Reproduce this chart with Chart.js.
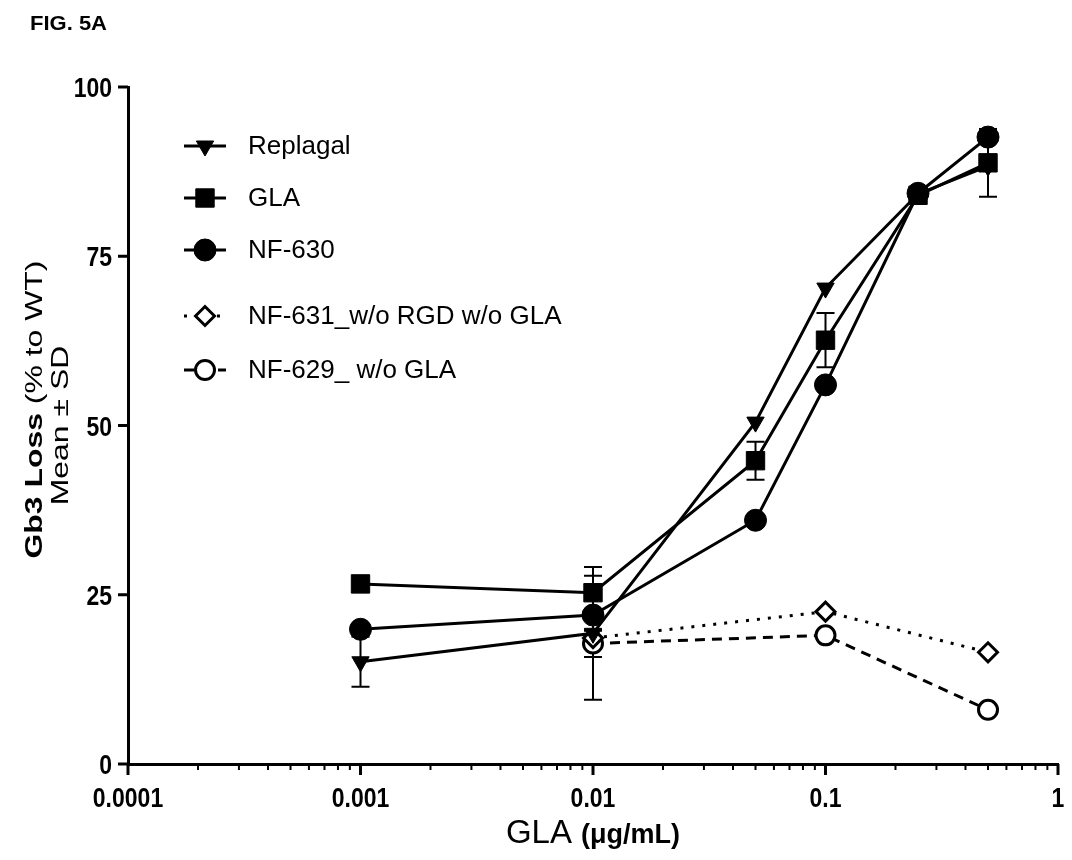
<!DOCTYPE html>
<html>
<head>
<meta charset="utf-8">
<script src="https://cdn.jsdelivr.net/npm/chart.js@4.4.1/dist/chart.umd.min.js"></script>
<style>
  html, body { margin: 0; padding: 0; background: #fff; }
  #wrap { position: relative; width: 1072px; height: 860px; }
</style>
</head>
<body>
<div id="wrap"><canvas id="fig5a" width="1072" height="860"></canvas></div>
<script>
// concentrations (ug/mL)
const doses = [0.001, 0.01, 0.05, 0.1, 0.25, 0.5];
const dosesCtrl = [0.01, 0.1, 0.5];

// Gb3 loss, mean and SD
const replagal = [15.1, 19.3, 50.5, 70.3, 84.2, 88.3];
const replagalSd = [3.7, 9.8, 0, 0, 0, 0];
const gla = [26.6, 25.3, 44.8, 62.6, 84.0, 88.8];
const glaSd = [0, 2.5, 2.8, 4.0, 0, 5.0];
const nf630 = [19.9, 22.0, 36.0, 56.0, 84.3, 92.6];
const nf630Sd = [0, 2.3, 0, 0, 0, 0];
const nf631 = [18.6, 22.5, 16.5];
const nf631Sd = [0, 0, 0];
const nf629 = [17.8, 19.0, 8.0];
const nf629Sd = [2.0, 0, 0];

const xTickValues = [0.0001, 0.001, 0.01, 0.1, 1];
const xTickLabels = ["0.0001", "0.001", "0.01", "0.1", "1"];
const yTickValues = [0, 25, 50, 75, 100];

const seriesNames = ["Replagal", "GLA", "NF-630", "NF-631_w/o RGD w/o GLA", "NF-629_ w/o GLA"];

function pts(xs, ys) {
    return xs.map((x, i) => ({ x: x, y: ys[i] }));
}

// text that is taller than wide, like the scanned figure
function stretchedText(ctx, txt, x, y, align, sy) {
    ctx.save();
    ctx.translate(x, y);
    ctx.scale(1, sy);
    ctx.textAlign = align;
    ctx.fillText(txt, 0, 0);
    ctx.restore();
}

// error bars
const errorBars = {
    id: "errorBars",
    beforeDatasetsDraw(chart) {
        const ctx = chart.ctx;
        const xs = chart.scales.x, ys = chart.scales.y;
        ctx.save();
        ctx.strokeStyle = "#000";
        ctx.lineWidth = 2;
        chart.data.datasets.forEach(ds => {
            ds.data.forEach((p, i) => {
                const sd = ds.sd[i];
                if (!sd) return;
                const px = xs.getPixelForValue(p.x);
                const top = ys.getPixelForValue(p.y + sd);
                const bot = ys.getPixelForValue(p.y - sd);
                ctx.beginPath();
                ctx.moveTo(px, top); ctx.lineTo(px, bot);
                ctx.moveTo(px - 9, top); ctx.lineTo(px + 9, top);
                ctx.moveTo(px - 9, bot); ctx.lineTo(px + 9, bot);
                ctx.stroke();
            });
        });
        ctx.restore();
    }
};

// tick marks, tick labels, titles, legend
const decorations = {
    id: "decorations",
    afterDraw(chart) {
        const ctx = chart.ctx;
        const xs = chart.scales.x, ys = chart.scales.y;
        const area = chart.chartArea;
        ctx.save();
        ctx.strokeStyle = "#000";
        ctx.fillStyle = "#000";

        // x minor + major ticks
        ctx.lineWidth = 2;
        for (let e = -4; e < 0; e++) {
            for (let d = 2; d <= 9; d++) {
                const px = xs.getPixelForValue(d * Math.pow(10, e));
                ctx.beginPath();
                ctx.moveTo(px, area.bottom); ctx.lineTo(px, area.bottom + 6);
                ctx.stroke();
            }
        }
        ctx.lineWidth = 3;
        ctx.font = "bold 23px 'Liberation Sans', Arial";
        ctx.textBaseline = "alphabetic";
        xTickValues.forEach((v, i) => {
            const px = xs.getPixelForValue(v);
            ctx.beginPath();
            ctx.moveTo(px, area.bottom); ctx.lineTo(px, area.bottom + 11);
            ctx.stroke();
            stretchedText(ctx, xTickLabels[i], px, area.bottom + 43, "center", 1.2);
        });
        yTickValues.forEach(v => {
            const py = ys.getPixelForValue(v);
            ctx.beginPath();
            ctx.moveTo(area.left - 10, py); ctx.lineTo(area.left, py);
            ctx.stroke();
            stretchedText(ctx, String(v), area.left - 16, py + 10, "right", 1.2);
        });

        // figure label
        ctx.save();
        ctx.translate(30, 30);
        ctx.scale(1.1, 1);
        ctx.font = "bold 20px 'Liberation Sans', Arial";
        ctx.fillText("FIG. 5A", 0, 0);
        ctx.restore();

        // x title
        const cx = (area.left + area.right) / 2;
        ctx.font = "33px 'Liberation Sans', Arial";
        const w1 = ctx.measureText("GLA ").width;
        ctx.font = "bold 27px 'Liberation Sans', Arial";
        const w2 = ctx.measureText("(\u03bcg/mL)").width;
        const sx = cx - (w1 + w2) / 2;
        ctx.font = "33px 'Liberation Sans', Arial";
        ctx.fillText("GLA ", sx, 843);
        ctx.font = "bold 27px 'Liberation Sans', Arial";
        ctx.fillText("(\u03bcg/mL)", sx + w1, 843);

        // y title
        const cy = (area.top + area.bottom) / 2;
        ctx.save();
        ctx.translate(42, cy);
        ctx.rotate(-Math.PI / 2);
        ctx.scale(1.33, 1);
        ctx.font = "bold 24px 'Liberation Sans', Arial";
        const a1 = ctx.measureText("Gb3 Loss ").width;
        ctx.font = "24px 'Liberation Sans', Arial";
        const a2 = ctx.measureText("(% to WT)").width;
        const start = -(a1 + a2) / 2 + 12;
        ctx.font = "bold 24px 'Liberation Sans', Arial";
        ctx.fillText("Gb3 Loss ", start, 0);
        ctx.font = "24px 'Liberation Sans', Arial";
        ctx.fillText("(% to WT)", start + a1, 0);
        ctx.textAlign = "center";
        ctx.fillText("Mean \u00b1 SD", 0, 26);
        ctx.restore();

        // legend
        const rows = [146, 198, 250, 316, 370];
        ctx.textAlign = "left";
        chart.data.datasets.forEach((ds, i) => {
            const y = rows[i];
            ctx.save();
            ctx.lineWidth = ds.borderWidth;
            ctx.setLineDash(ds.borderDash || []);
            ctx.beginPath();
            ctx.moveTo(184, y); ctx.lineTo(226, y);
            ctx.stroke();
            ctx.restore();
            ctx.save();
            ctx.lineWidth = ds.pointBorderWidth;
            ctx.strokeStyle = ds.pointBorderColor;
            ctx.fillStyle = ds.pointBackgroundColor;
            Chart.helpers.drawPoint(ctx, {
                pointStyle: ds.pointStyle,
                radius: ds.pointRadius,
                rotation: ds.pointRotation || 0,
                borderWidth: ds.pointBorderWidth
            }, 205, y);
            ctx.restore();
            ctx.font = "26px 'Liberation Sans', Arial";
            ctx.textBaseline = "middle";
            ctx.fillText(ds.label, 248, y + 1);
        });
        ctx.restore();
    }
};

const base = {
    showLine: true,
    borderColor: "#000",
    pointBorderColor: "#000",
    pointBackgroundColor: "#000",
    borderWidth: 3,
    pointBorderWidth: 1,
    pointHoverRadius: 10
};

new Chart(document.getElementById("fig5a"), {
    type: "scatter",
    data: {
        datasets: [
            Object.assign({}, base, {
                label: seriesNames[0], data: pts(doses, replagal), sd: replagalSd,
                pointStyle: "triangle", pointRotation: 180, pointRadius: 10
            }),
            Object.assign({}, base, {
                label: seriesNames[1], data: pts(doses, gla), sd: glaSd,
                pointStyle: "rect", pointRadius: 13
            }),
            Object.assign({}, base, {
                label: seriesNames[2], data: pts(doses, nf630), sd: nf630Sd,
                pointStyle: "circle", pointRadius: 11
            }),
            Object.assign({}, base, {
                label: seriesNames[3], data: pts(dosesCtrl, nf631), sd: nf631Sd,
                pointStyle: "rectRot", pointRadius: 9.5, pointBorderWidth: 3,
                pointBackgroundColor: "#fff", borderWidth: 3, borderDash: [3, 8]
            }),
            Object.assign({}, base, {
                label: seriesNames[4], data: pts(dosesCtrl, nf629), sd: nf629Sd,
                pointStyle: "circle", pointRadius: 9.5, pointBorderWidth: 3,
                pointBackgroundColor: "#fff", borderWidth: 3, borderDash: [10, 7]
            })
        ]
    },
    options: {
        responsive: false,
        animation: false,
        layout: { padding: { top: 87, right: 8, left: 0, bottom: 0 } },
        plugins: {
            legend: { display: false },
            tooltip: { enabled: false }
        },
        scales: {
            x: {
                type: "logarithmic",
                min: 0.0001,
                max: 1,
                afterFit: scale => { scale.height = 96; },
                ticks: { display: false },
                grid: { drawOnChartArea: false, drawTicks: false },
                border: { color: "#000", width: 3 }
            },
            y: {
                min: 0,
                max: 100,
                afterFit: scale => { scale.width = 128; },
                ticks: { display: false, stepSize: 25 },
                grid: { drawOnChartArea: false, drawTicks: false },
                border: { color: "#000", width: 3 }
            }
        }
    },
    plugins: [errorBars, decorations]
});
</script>
</body>
</html>
